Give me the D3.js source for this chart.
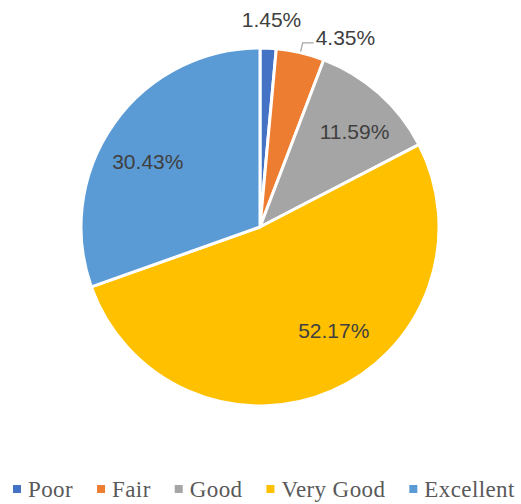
<!DOCTYPE html>
<html>
<head>
<meta charset="utf-8">
<script src="https://cdn.jsdelivr.net/npm/d3@7"></script>
<style>
  body { margin: 0; background: #fff; }
  svg { display: block; }
</style>
</head>
<body>
<div id="chart"></div>
<script>
// chart data
var categories = ["Poor", "Fair", "Good", "Very Good", "Excellent"];
var values = [1.45, 4.35, 11.59, 52.17, 30.43];
var colors = ["#4472C4", "#ED7D31", "#A5A5A5", "#FFC000", "#5B9BD5"];

var width = 521, height = 504;
var cx = 260, cy = 227, radius = 179;

// small shifts of the inside labels, Excel's "best fit" does not sit exactly on the centroid
var labelNudge = { "Good": [8, 2], "Very Good": [22, -16], "Excellent": [-6, 10] };

var svg = d3.select("#chart").append("svg")
  .attr("width", width)
  .attr("height", height);

var data = categories.map(function (c, i) {
  return { name: c, value: values[i], color: colors[i] };
});

var pie = d3.pie()
  .sort(null)
  .value(function (d) { return d.value; });

var arcs = pie(data);

var arc = d3.arc().innerRadius(0).outerRadius(radius);
var labelArc = d3.arc().innerRadius(130).outerRadius(130);

var g = svg.append("g")
  .attr("transform", "translate(" + cx + "," + cy + ")");

g.selectAll("path.slice")
  .data(arcs)
  .enter().append("path")
  .attr("class", "slice")
  .attr("d", arc)
  .attr("fill", function (d) { return d.data.color; })
  .attr("stroke", "#fff")
  .attr("stroke-width", 3)
  .attr("stroke-linejoin", "round");

function fmt(v) { return v.toFixed(2) + "%"; }

function midAngle(d) { return (d.startAngle + d.endAngle) / 2; }

function polar(a, r) { return [Math.sin(a) * r, -Math.cos(a) * r]; }

var labelFont = "'Liberation Sans', Arial, sans-serif";

function addLabel(x, y, anchor, txt) {
  g.append("text")
    .attr("x", x)
    .attr("y", y)
    .attr("dy", "0.35em")
    .attr("text-anchor", anchor)
    .style("font-family", labelFont)
    .style("font-size", "21px")
    .attr("fill", "#404040")
    .text(txt);
}

arcs.forEach(function (d) {
  var share = d.data.value;
  var a = midAngle(d);
  if (share >= 6) {
    // inside label
    var c = labelArc.centroid(d);
    var n = labelNudge[d.data.name] || [0, 0];
    addLabel(c[0] + n[0], c[1] + n[1], "middle", fmt(share));
  } else if (share < 3) {
    // tiny slice: label straight above, no leader
    var p = polar(a, radius + 29);
    addLabel(p[0] + 2, p[1], "middle", fmt(share));
  } else {
    // small slice: outside label with leader line
    var p0 = polar(a, radius + 1);
    var p1 = polar(a, radius + 10);
    var p2 = [p1[0] + 11, p1[1]];
    g.append("polyline")
      .attr("points", [p0, p1, p2].map(function (p) { return p.join(","); }).join(" "))
      .attr("fill", "none")
      .attr("stroke", "#A6A6A6")
      .attr("stroke-width", 1.3);
    addLabel(p2[0] + 2, p2[1] - 5, "start", fmt(share));
  }
});

// legend along the bottom
var legend = svg.append("g").attr("class", "legend");
var lx = 13, ly = 489;

data.forEach(function (d) {
  var item = legend.append("g");
  item.append("rect")
    .attr("x", lx)
    .attr("y", ly - 4)
    .attr("width", 8)
    .attr("height", 8)
    .attr("fill", d.color);
  var t = item.append("text")
    .attr("x", lx + 15)
    .attr("y", ly + 8)
    .style("font-family", "'Liberation Serif', 'Times New Roman', serif")
    .style("font-size", "23px")
    .style("letter-spacing", "0.4px")
    .attr("fill", "#595959")
    .text(d.name);
  lx += 15 + t.node().getComputedTextLength() + 24;
});
</script>
</body>
</html>
